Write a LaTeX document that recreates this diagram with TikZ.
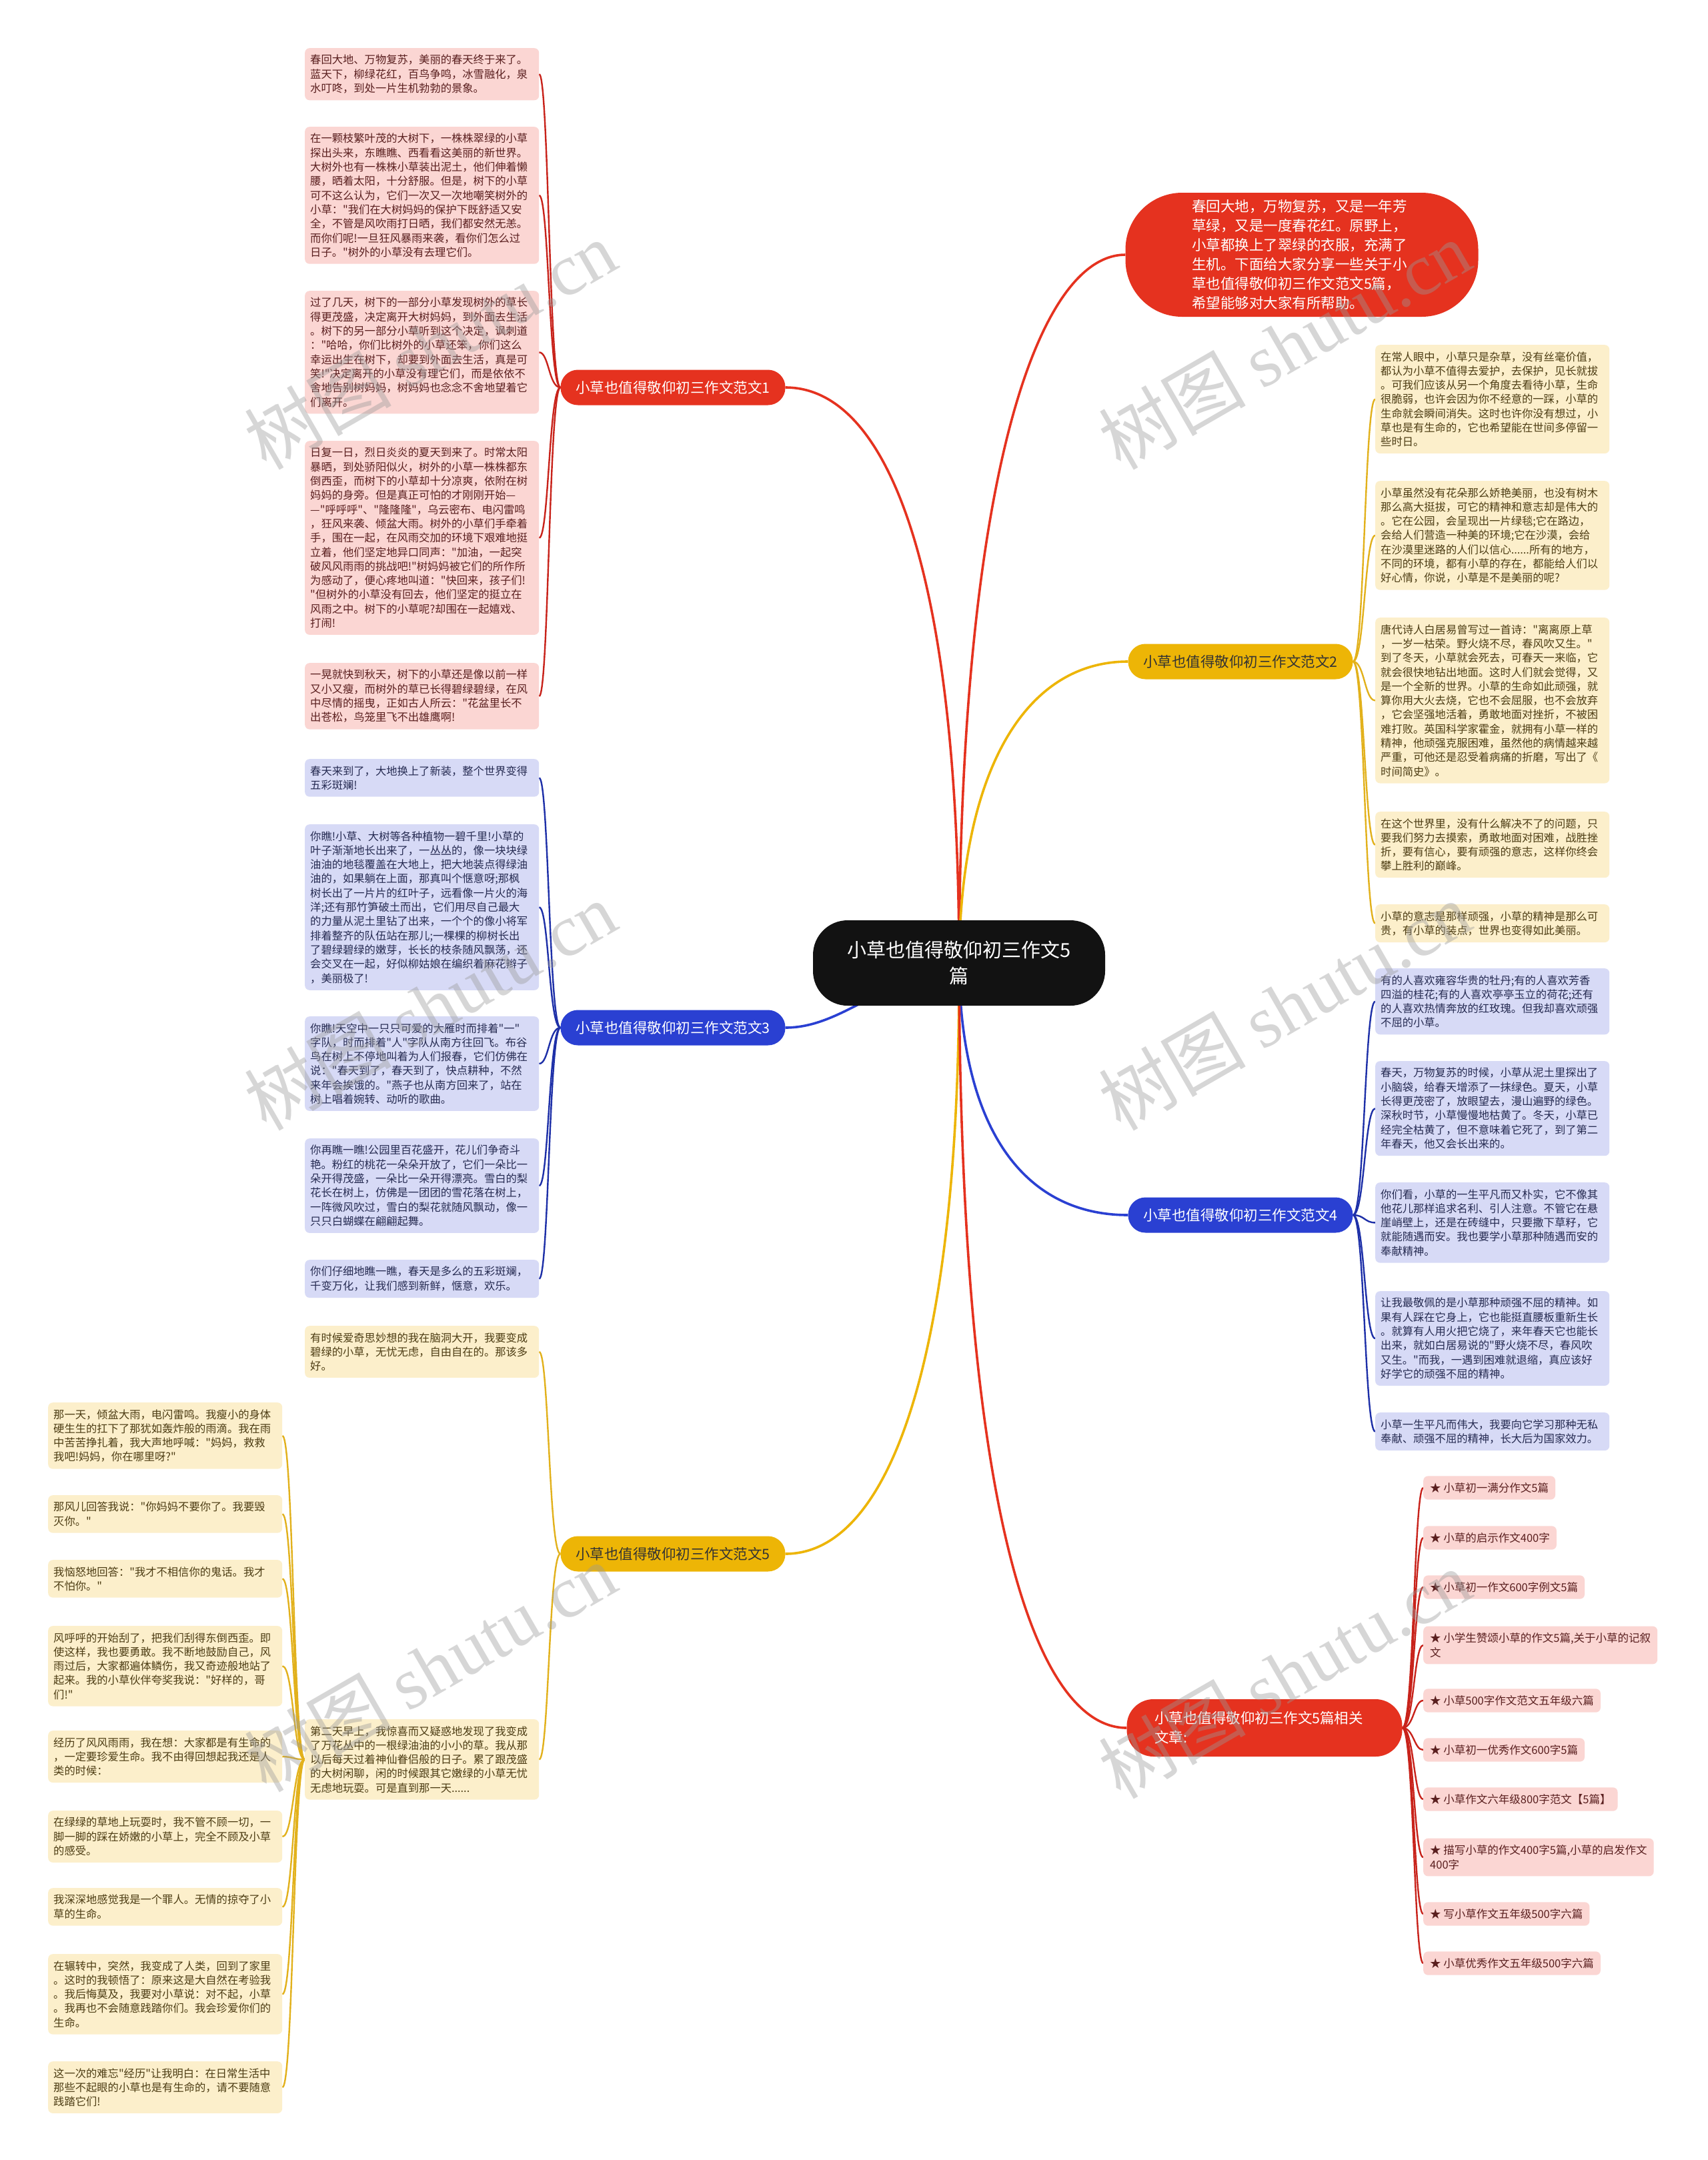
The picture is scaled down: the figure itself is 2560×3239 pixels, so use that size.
\documentclass[tikz,border=0pt]{standalone}
\usepackage{fontspec}
\newfontfamily\cjk{Noto Sans CJK SC}
\newfontfamily\wmserif{Liberation Serif}
\usetikzlibrary{backgrounds}
\definecolor{redmain}{HTML}{E5321F}
\definecolor{redline}{HTML}{C8231B}
\definecolor{yelmain}{HTML}{EDB506}
\definecolor{yelline}{HTML}{E2B11C}
\definecolor{bluemain}{HTML}{2A40D2}
\definecolor{blueline}{HTML}{1E30A8}
\definecolor{pinkbg}{HTML}{FBD6D3}
\definecolor{bluebg}{HTML}{D7DAF6}
\definecolor{yelbg}{HTML}{FCEFCB}
\definecolor{pinktx}{HTML}{5A1F1F}
\definecolor{bluetx}{HTML}{262B52}
\definecolor{yeltx}{HTML}{4D3D14}
\begin{document}
\begin{tikzpicture}[x=1pt,y=-1pt,
 leaf/.style={rounded corners=7pt, inner xsep=8pt, inner ysep=10pt, text width=335pt, align=left, anchor=north west, font=\cjk\fontsize{16.3pt}{21.3pt}\selectfont},
 pleaf/.style={leaf, fill=pinkbg, text=pinktx},
 bleaf/.style={leaf, fill=bluebg, text=bluetx},
 yleaf/.style={leaf, fill=yelbg, text=yeltx},
 branchbox/.style={rounded corners=26pt, minimum width=337pt, minimum height=53pt, inner sep=0pt, font=\cjk\fontsize{21.5pt}{26pt}\selectfont},
 linkbox/.style={rounded corners=7pt, inner xsep=10pt, inner ysep=10pt, anchor=west, align=left, fill=pinkbg, text=pinktx, font=\cjk\fontsize{16.5pt}{21.5pt}\selectfont},
 rthin/.style={draw=redline, line width=2.4pt},
 ythin/.style={draw=yelline, line width=2.4pt},
 bthin/.style={draw=blueline, line width=2.4pt},
 rthick/.style={draw=redmain, line width=3.6pt},
 ythick/.style={draw=yelmain, line width=3.6pt},
 bthick/.style={draw=bluemain, line width=3.6pt},
 wm/.style={text=black!40, text opacity=0.4, rotate=30, font=\cjk\fontsize{110pt}{110pt}\selectfont}
]
\useasboundingbox (0,0) rectangle (2560,3239);

% ---------- centre and first-level nodes ----------
\node[fill=black!93, text=white, rounded corners=52pt, minimum width=438pt, minimum height=128pt, align=center, font=\cjk\fontsize{29pt}{39pt}\selectfont] (ctr) at (1438,1444) {小草也值得敬仰初三作文5\\篇};

\node[fill=redmain, text=white, rounded corners=85pt, minimum width=529pt, minimum height=186pt, text width=330pt, align=left, font=\cjk\fontsize{21.5pt}{29pt}\selectfont] (intro) at (1952,382) {春回大地，万物复苏，又是一年芳\\草绿，又是一度春花红。原野上，\\小草都换上了翠绿的衣服，充满了\\生机。下面给大家分享一些关于小\\草也值得敬仰初三作文范文5篇，\\希望能够对大家有所帮助。};

\node[branchbox, fill=redmain, text=white] (b1) at (1009,581) {小草也值得敬仰初三作文范文1};
\node[branchbox, fill=yelmain, text=black!80] (b2) at (1860,992) {小草也值得敬仰初三作文范文2};
\node[branchbox, fill=bluemain, text=white] (b3) at (1009,1541) {小草也值得敬仰初三作文范文3};
\node[branchbox, fill=bluemain, text=white] (b4) at (1860,1822) {小草也值得敬仰初三作文范文4};
\node[branchbox, fill=yelmain, text=black!80] (b5) at (1009,2330) {小草也值得敬仰初三作文范文5};
\node[fill=redmain, text=white, rounded corners=40pt, minimum width=413pt, minimum height=86pt, text width=330pt, align=left, font=\cjk\fontsize{21.5pt}{29pt}\selectfont] (b6) at (1896,2591) {小草也值得敬仰初三作文5篇相关\\文章:};

% ---------- branch 1 ----------
\node[pleaf] (l1a) at (457,72) {春回大地、万物复苏，美丽的春天终于来了。\\蓝天下，柳绿花红，百鸟争鸣，冰雪融化，泉\\水叮咚，到处一片生机勃勃的景象。};
\node[pleaf] (l1b) at (457,190) {在一颗枝繁叶茂的大树下，一株株翠绿的小草\\探出头来，东瞧瞧、西看看这美丽的新世界。\\大树外也有一株株小草装出泥土，他们伸着懒\\腰，晒着太阳，十分舒服。但是，树下的小草\\可不这么认为，它们一次又一次地嘲笑树外的\\小草："我们在大树妈妈的保护下既舒适又安\\全，不管是风吹雨打日晒，我们都安然无恙。\\而你们呢!一旦狂风暴雨来袭，看你们怎么过\\日子。"树外的小草没有去理它们。};
\node[pleaf] (l1c) at (457,436) {过了几天，树下的一部分小草发现树外的草长\\得更茂盛，决定离开大树妈妈，到外面去生活\\。树下的另一部分小草听到这个决定，讽刺道\\："哈哈，你们比树外的小草还笨，你们这么\\幸运出生在树下，却要到外面去生活，真是可\\笑!"决定离开的小草没有理它们，而是依依不\\舍地告别树妈妈，树妈妈也念念不舍地望着它\\们离开。};
\node[pleaf] (l1d) at (457,661) {日复一日，烈日炎炎的夏天到来了。时常太阳\\暴晒，到处骄阳似火，树外的小草一株株都东\\倒西歪，而树下的小草却十分凉爽，依附在树\\妈妈的身旁。但是真正可怕的才刚刚开始—\\—"呼呼呼"、"隆隆隆"，乌云密布、电闪雷鸣\\，狂风来袭、倾盆大雨。树外的小草们手牵着\\手，围在一起，在风雨交加的环境下艰难地挺\\立着，他们坚定地异口同声："加油，一起突\\破风风雨雨的挑战吧!"树妈妈被它们的所作所\\为感动了，便心疼地叫道："快回来，孩子们!\\"但树外的小草没有回去，他们坚定的挺立在\\风雨之中。树下的小草呢?却围在一起嬉戏、\\打闹!};
\node[pleaf] (l1e) at (457,994) {一晃就快到秋天，树下的小草还是像以前一样\\又小又瘦，而树外的草已长得碧绿碧绿，在风\\中尽情的摇曳，正如古人所云："花盆里长不\\出苍松，鸟笼里飞不出雄鹰啊!};

% ---------- branch 3 ----------
\node[bleaf] (l3a) at (457,1138) {春天来到了，大地换上了新装，整个世界变得\\五彩斑斓!};
\node[bleaf] (l3b) at (457,1236) {你瞧!小草、大树等各种植物一碧千里!小草的\\叶子渐渐地长出来了，一丛丛的，像一块块绿\\油油的地毯覆盖在大地上，把大地装点得绿油\\油的，如果躺在上面，那真叫个惬意呀;那枫\\树长出了一片片的红叶子，远看像一片火的海\\洋;还有那竹笋破土而出，它们用尽自己最大\\的力量从泥土里钻了出来，一个个的像小将军\\排着整齐的队伍站在那儿;一棵棵的柳树长出\\了碧绿碧绿的嫩芽，长长的枝条随风飘荡，还\\会交叉在一起，好似柳姑娘在编织着麻花辫子\\，美丽极了!};
\node[bleaf] (l3c) at (457,1524) {你瞧!天空中一只只可爱的大雁时而排着"一"\\字队，时而排着"人"字队从南方往回飞。布谷\\鸟在树上不停地叫着为人们报春，它们仿佛在\\说："春天到了，春天到了，快点耕种，不然\\来年会挨饿的。"燕子也从南方回来了，站在\\树上唱着婉转、动听的歌曲。};
\node[bleaf] (l3d) at (457,1707) {你再瞧一瞧!公园里百花盛开，花儿们争奇斗\\艳。粉红的桃花一朵朵开放了，它们一朵比一\\朵开得茂盛，一朵比一朵开得漂亮。雪白的梨\\花长在树上，仿佛是一团团的雪花落在树上，\\一阵微风吹过，雪白的梨花就随风飘动，像一\\只只白蝴蝶在翩翩起舞。};
\node[bleaf] (l3e) at (457,1889) {你们仔细地瞧一瞧，春天是多么的五彩斑斓，\\千变万化，让我们感到新鲜，惬意，欢乐。};

% ---------- branch 5 ----------
\node[yleaf] (l5a) at (457,1988) {有时候爱奇思妙想的我在脑洞大开，我要变成\\碧绿的小草，无忧无虑，自由自在的。那该多\\好。};
\node[yleaf] (l5b) at (457,2578) {第二天早上，我惊喜而又疑惑地发现了我变成\\了万花丛中的一根绿油油的小小的草。我从那\\以后每天过着神仙眷侣般的日子。累了跟茂盛\\的大树闲聊，闲的时候跟其它嫩绿的小草无忧\\无虑地玩耍。可是直到那一天......};

\node[yleaf] (m1) at (72,2103) {那一天，倾盆大雨，电闪雷鸣。我瘦小的身体\\硬生生的扛下了那犹如轰炸般的雨滴。我在雨\\中苦苦挣扎着，我大声地呼喊："妈妈，救救\\我吧!妈妈，你在哪里呀?"};
\node[yleaf] (m2) at (72,2242) {那风儿回答我说："你妈妈不要你了。我要毁\\灭你。"};
\node[yleaf] (m3) at (72,2339) {我恼怒地回答："我才不相信你的鬼话。我才\\不怕你。"};
\node[yleaf] (m4) at (72,2438) {风呼呼的开始刮了，把我们刮得东倒西歪。即\\使这样，我也要勇敢。我不断地鼓励自己，风\\雨过后，大家都遍体鳞伤，我又奇迹般地站了\\起来。我的小草伙伴夸奖我说："好样的，哥\\们!"};
\node[yleaf] (m5) at (72,2595) {经历了风风雨雨，我在想：大家都是有生命的\\，一定要珍爱生命。我不由得回想起我还是人\\类的时候：};
\node[yleaf] (m6) at (72,2715) {在绿绿的草地上玩耍时，我不管不顾一切，一\\脚一脚的踩在娇嫩的小草上，完全不顾及小草\\的感受。};
\node[yleaf] (m7) at (72,2831) {我深深地感觉我是一个罪人。无情的掠夺了小\\草的生命。};
\node[yleaf] (m8) at (72,2930) {在辗转中，突然，我变成了人类，回到了家里\\。这时的我顿悟了：原来这是大自然在考验我\\。我后悔莫及，我要对小草说：对不起，小草\\。我再也不会随意践踏你们。我会珍爱你们的\\生命。};
\node[yleaf] (m9) at (72,3091) {这一次的难忘"经历"让我明白：在日常生活中\\那些不起眼的小草也是有生命的，请不要随意\\践踏它们!};

% ---------- branch 2 ----------
\node[yleaf] (l2a) at (2062,517) {在常人眼中，小草只是杂草，没有丝毫价值，\\都认为小草不值得去爱护，去保护，见长就拔\\。可我们应该从另一个角度去看待小草，生命\\很脆弱，也许会因为你不经意的一踩，小草的\\生命就会瞬间消失。这时也许你没有想过，小\\草也是有生命的，它也希望能在世间多停留一\\些时日。};
\node[yleaf] (l2b) at (2062,721) {小草虽然没有花朵那么娇艳美丽，也没有树木\\那么高大挺拔，可它的精神和意志却是伟大的\\。它在公园，会呈现出一片绿毯;它在路边，\\会给人们营造一种美的环境;它在沙漠，会给\\在沙漠里迷路的人们以信心......所有的地方，\\不同的环境，都有小草的存在，都能给人们以\\好心情，你说，小草是不是美丽的呢?};
\node[yleaf] (l2c) at (2062,926) {唐代诗人白居易曾写过一首诗："离离原上草\\，一岁一枯荣。野火烧不尽，春风吹又生。"\\到了冬天，小草就会死去，可春天一来临，它\\就会很快地钻出地面。这时人们就会觉得，又\\是一个全新的世界。小草的生命如此顽强，就\\算你用大火去烧，它也不会屈服，也不会放弃\\，它会坚强地活着，勇敢地面对挫折，不被困\\难打败。英国科学家霍金，就拥有小草一样的\\精神，他顽强克服困难，虽然他的病情越来越\\严重，可他还是忍受着病痛的折磨，写出了《\\时间简史》。};
\node[yleaf] (l2d) at (2062,1217) {在这个世界里，没有什么解决不了的问题，只\\要我们努力去摸索，勇敢地面对困难，战胜挫\\折，要有信心，要有顽强的意志，这样你终会\\攀上胜利的巅峰。};
\node[yleaf] (l2e) at (2062,1356) {小草的意志是那样顽强，小草的精神是那么可\\贵，有小草的装点，世界也变得如此美丽。};

% ---------- branch 4 ----------
\node[bleaf] (l4a) at (2062,1452) {有的人喜欢雍容华贵的牡丹;有的人喜欢芳香\\四溢的桂花;有的人喜欢亭亭玉立的荷花;还有\\的人喜欢热情奔放的红玫瑰。但我却喜欢顽强\\不屈的小草。};
\node[bleaf] (l4b) at (2062,1591) {春天，万物复苏的时候，小草从泥土里探出了\\小脑袋，给春天增添了一抹绿色。夏天，小草\\长得更茂密了，放眼望去，漫山遍野的绿色。\\深秋时节，小草慢慢地枯黄了。冬天，小草已\\经完全枯黄了，但不意味着它死了，到了第二\\年春天，他又会长出来的。};
\node[bleaf] (l4c) at (2062,1773) {你们看，小草的一生平凡而又朴实，它不像其\\他花儿那样追求名利、引人注意。不管它在悬\\崖峭壁上，还是在砖缝中，只要撒下草籽，它\\就能随遇而安。我也要学小草那种随遇而安的\\奉献精神。};
\node[bleaf] (l4d) at (2062,1936) {让我最敬佩的是小草那种顽强不屈的精神。如\\果有人踩在它身上，它也能挺直腰板重新生长\\。就算有人用火把它烧了，来年春天它也能长\\出来，就如白居易说的"野火烧不尽，春风吹\\又生。"而我，一遇到困难就退缩，真应该好\\好学它的顽强不屈的精神。};
\node[bleaf] (l4e) at (2062,2118) {小草一生平凡而伟大，我要向它学习那种无私\\奉献、顽强不屈的精神，长大后为国家效力。};

% ---------- branch 6 (links) ----------
\node[linkbox] (k1) at (2134,2231) {★ 小草初一满分作文5篇};
\node[linkbox] (k2) at (2134,2306) {★ 小草的启示作文400字};
\node[linkbox] (k3) at (2134,2380) {★ 小草初一作文600字例文5篇};
\node[linkbox] (k4) at (2134,2467) {★ 小学生赞颂小草的作文5篇,关于小草的记叙\\文};
\node[linkbox] (k5) at (2134,2550) {★ 小草500字作文范文五年级六篇};
\node[linkbox] (k6) at (2134,2624) {★ 小草初一优秀作文600字5篇};
\node[linkbox] (k7) at (2134,2698) {★ 小草作文六年级800字范文【5篇】};
\node[linkbox] (k8) at (2134,2785) {★ 描写小草的作文400字5篇,小草的启发作文\\400字};
\node[linkbox] (k9) at (2134,2870) {★ 写小草作文五年级500字六篇};
\node[linkbox] (k10) at (2134,2944) {★ 小草优秀作文五年级500字六篇};

% trunk positions
\coordinate (tl) at (823,0);
\coordinate (tf) at (440,0);
\coordinate (tr) at (2046,0);
\coordinate (tk) at (2120,0);

\begin{pgfonlayer}{background}
\fill[white] (0,0) rectangle (2560,3239);
% main branches
\draw[rthick] (ctr.center) .. controls (1440,700) and (1560,382) .. (intro.west);
\draw[rthick] (ctr.center) .. controls (1438,850) and (1330,581) .. (b1.east);
\draw[ythick] (ctr.center) .. controls (1440,1150) and (1540,992) .. (b2.west);
\draw[bthick] (ctr.center) .. controls (1320,1470) and (1260,1541) .. (b3.east);
\draw[bthick] (ctr.center) .. controls (1440,1700) and (1540,1822) .. (b4.west);
\draw[ythick] (ctr.center) .. controls (1440,2050) and (1330,2330) .. (b5.east);
\draw[rthick] (ctr.center) .. controls (1440,2300) and (1560,2591) .. (b6.west);
% leaves
\foreach \n in {l1a,l1b,l1c,l1d,l1e}
  \draw[rthin] (b1.west) .. controls (tl |- b1.west) and (tl |- \n.east) .. (\n.east);
\foreach \n in {l3a,l3b,l3c,l3d,l3e}
  \draw[bthin] (b3.west) .. controls (tl |- b3.west) and (tl |- \n.east) .. (\n.east);
\foreach \n in {l5a,l5b}
  \draw[ythin] (b5.west) .. controls (tl |- b5.west) and (tl |- \n.east) .. (\n.east);
\foreach \n in {m1,m2,m3,m4,m5,m6,m7,m8,m9}
  \draw[ythin] (l5b.west) .. controls (tf |- l5b.west) and (tf |- \n.east) .. (\n.east);
\foreach \n in {l2a,l2b,l2c,l2d,l2e}
  \draw[ythin] (b2.east) .. controls (tr |- b2.east) and (tr |- \n.west) .. (\n.west);
\foreach \n in {l4a,l4b,l4c,l4d,l4e}
  \draw[bthin] (b4.east) .. controls (tr |- b4.east) and (tr |- \n.west) .. (\n.west);
\foreach \n in {k1,k2,k3,k4,k5,k6,k7,k8,k9,k10}
  \draw[rthin] (b6.east) .. controls (tk |- b6.east) and (tk |- \n.west) .. (\n.west);
\end{pgfonlayer}

% watermark
\node[wm] (w1) at (645,517) {树图 {\wmserif shutu.cn}};
\node[wm] (w2) at (1926,517) {树图 {\wmserif shutu.cn}};
\node[wm] (w3) at (645,1508) {树图 {\wmserif shutu.cn}};
\node[wm] (w4) at (1926,1508) {树图 {\wmserif shutu.cn}};
\node[wm] (w5) at (645,2500) {树图 {\wmserif shutu.cn}};
\node[wm] (w6) at (1926,2510) {树图 {\wmserif shutu.cn}};
\end{tikzpicture}
\end{document}
